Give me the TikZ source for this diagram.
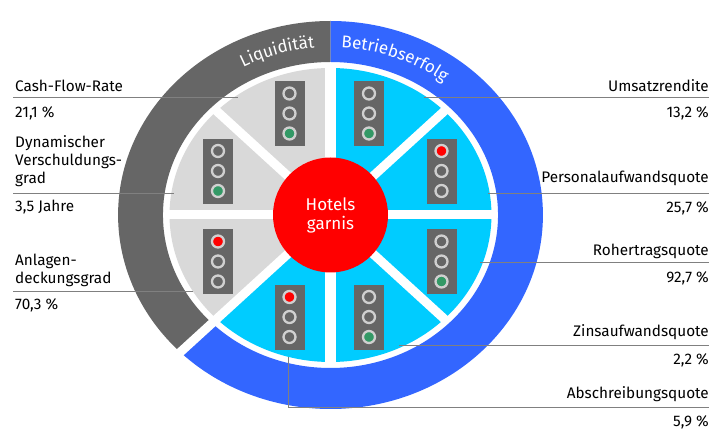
\documentclass[tikz,border=0pt]{standalone}
\usepackage{fontspec}
\setmainfont{Fira Sans}
\usetikzlibrary{decorations.text}
\definecolor{ringgray}{HTML}{666666}
\definecolor{ringblue}{HTML}{3366FF}
\definecolor{wedgeblue}{HTML}{00CCFF}
\definecolor{wedgegray}{HTML}{D9D9D9}
\definecolor{hotelred}{HTML}{FF0000}
\definecolor{lampgreen}{HTML}{339966}
\definecolor{lamprim}{HTML}{D0D0D0}
\definecolor{leadergray}{HTML}{808080}
\newcommand\ringfont{\fontsize{17}{20}\selectfont}
\begin{document}
\begin{tikzpicture}[x=1pt,y=1pt,
  labelfont/.style={font=\fontsize{15.3}{18.2}\selectfont},
  lbl/.style={labelfont, inner sep=0pt, anchor=base west, align=left},
  rbl/.style={labelfont, inner sep=0pt, anchor=base east},
  leader/.style={draw=leadergray, line width=0.9pt},
  sepline/.style={draw=white, line width=9pt},
  lightbox/.style={fill=ringgray, draw=none, minimum width=30pt, minimum height=65pt, inner sep=0pt},
  lamp/.style={circle, draw=lamprim, line width=2.3pt, minimum size=12pt, inner sep=0pt},
  pics/ampel/.style n args={3}{code={
    \node[lightbox] (-box) at (0,-0.5) {};
    \node[lamp, fill=#1] (-top) at (0,20) {};
    \node[lamp, fill=#2] (-mid) at (0,0) {};
    \node[lamp, fill=#3] (-bot) at (0,-20) {};
  }}
]
\useasboundingbox (0,0) rectangle (713,-430);
\fill[white] (0,0) rectangle (713,-430);
% ring and wedges
\begin{scope}[shift={(330.5,-215)}, xscale=1.095]
  \fill[ringgray] (90:194) arc[start angle=90, end angle=225, radius=194]
    -- (225:153) arc[start angle=225, end angle=90, radius=153] -- cycle;
  \fill[ringblue] (90:194) arc[start angle=90, end angle=-135, radius=194]
    -- (-135:153) arc[start angle=-135, end angle=90, radius=153] -- cycle;
  \fill[wedgegray] (0,0) -- (90:147) arc[start angle=90, end angle=225, radius=147] -- cycle;
  \fill[wedgeblue] (0,0) -- (90:147) arc[start angle=90, end angle=-135, radius=147] -- cycle;
  \foreach \a in {0,45,135,180,315}
    \draw[sepline] (0,0) -- (\a:150);
  \draw[sepline, line width=10.5pt] (0,-150) -- (0,150);
  \draw[sepline] (0,0) -- (225:200);
\end{scope}
% ring labels
\path[decorate, decoration={text along path, text align=center,
    text={|\ringfont\color{white}|Liquidität}}]
  (330.5,-215) ++(141:184 and 168) arc[start angle=141, end angle=73, x radius=184, y radius=168];
\path[decorate, decoration={text along path, text align=center,
    text={|\ringfont\color{white}|Betriebserfolg}}]
  (330.5,-215) ++(103:184 and 168) arc[start angle=103, end angle=35, x radius=184, y radius=168];
% centre
\node[circle, fill=hotelred, minimum size=115pt, inner sep=0pt, text=white,
  font=\fontsize{17}{19}\selectfont, align=center] (hub) at (330.5,-215) {Hotels\\garnis};
% traffic lights
\pic (tl1) at (289.5,-113.5) {ampel={ringgray}{ringgray}{lampgreen}};
\pic (tl2) at (218,-171) {ampel={ringgray}{ringgray}{lampgreen}};
\pic (tl3) at (369,-113.5) {ampel={ringgray}{ringgray}{lampgreen}};
\pic (tl4) at (441.5,-171) {ampel={hotelred}{ringgray}{ringgray}};
\pic (tl5) at (218,-261.5) {ampel={hotelred}{ringgray}{ringgray}};
\pic (tl6) at (289.5,-317) {ampel={hotelred}{ringgray}{ringgray}};
\pic (tl7) at (369,-317) {ampel={ringgray}{ringgray}{lampgreen}};
\pic (tl8) at (441.5,-261.5) {ampel={ringgray}{ringgray}{lampgreen}};
% left labels
\node[lbl] (cfr) at (15,-92) {Cash-Flow-Rate};
\node[lbl] (cfrv) at (15,-118) {21,1 \%};
\node[lbl] (dvg) at (15,-184) {Dynamischer\\Verschuldungs-\\grad};
\node[lbl] (dvgv) at (15,-212) {3,5 Jahre};
\node[lbl] (adg) at (15,-284) {Anlagen-\\deckungsgrad};
\node[lbl] (adgv) at (15,-310) {70,3 \%};
% right labels
\node[rbl] (umr) at (709,-92) {Umsatzrendite};
\node[rbl] (umrv) at (709,-118) {13,2 \%};
\node[rbl] (paq) at (709,-183) {Personalaufwandsquote};
\node[rbl] (paqv) at (709,-213) {25,7 \%};
\node[rbl] (rtq) at (709,-255.5) {Rohertragsquote};
\node[rbl] (rtqv) at (709,-283) {92,7 \%};
\node[rbl] (zaq) at (709,-337) {Zinsaufwandsquote};
\node[rbl] (zaqv) at (709,-365) {2,2 \%};
\node[rbl] (abq) at (709,-399) {Abschreibungsquote};
\node[rbl] (abqv) at (709,-427) {5,9 \%};
% leader lines
\coordinate (l1a) at (13,-97);   \coordinate (l1b) at (238,-97);
\coordinate (l2a) at (13,-193);  \coordinate (l2b) at (174,-193);
\coordinate (l3a) at (13,-291);  \coordinate (l3b) at (193,-291);
\coordinate (r1a) at (424,-97);  \coordinate (r1b) at (709,-97);
\coordinate (r2a) at (488,-193); \coordinate (r2b) at (709,-193);
\coordinate (r3a) at (480,-262); \coordinate (r3b) at (709,-262);
\coordinate (r4a) at (399,-345); \coordinate (r4b) at (709,-345);
\coordinate (r5a) at (288,-357); \coordinate (r5b) at (709,-407);
\draw[leader] (l1a) -- (l1b);
\draw[leader] (l2a) -- (l2b);
\draw[leader] (l3a) -- (l3b);
\draw[leader] (r1a) -- (r1b);
\draw[leader] (r2a) -- (r2b);
\draw[leader] (r3a) -- (r3b);
\draw[leader] (r4a) -- (r4b);
\draw[leader] (r5a) |- (r5b);
\end{tikzpicture}
\end{document}
